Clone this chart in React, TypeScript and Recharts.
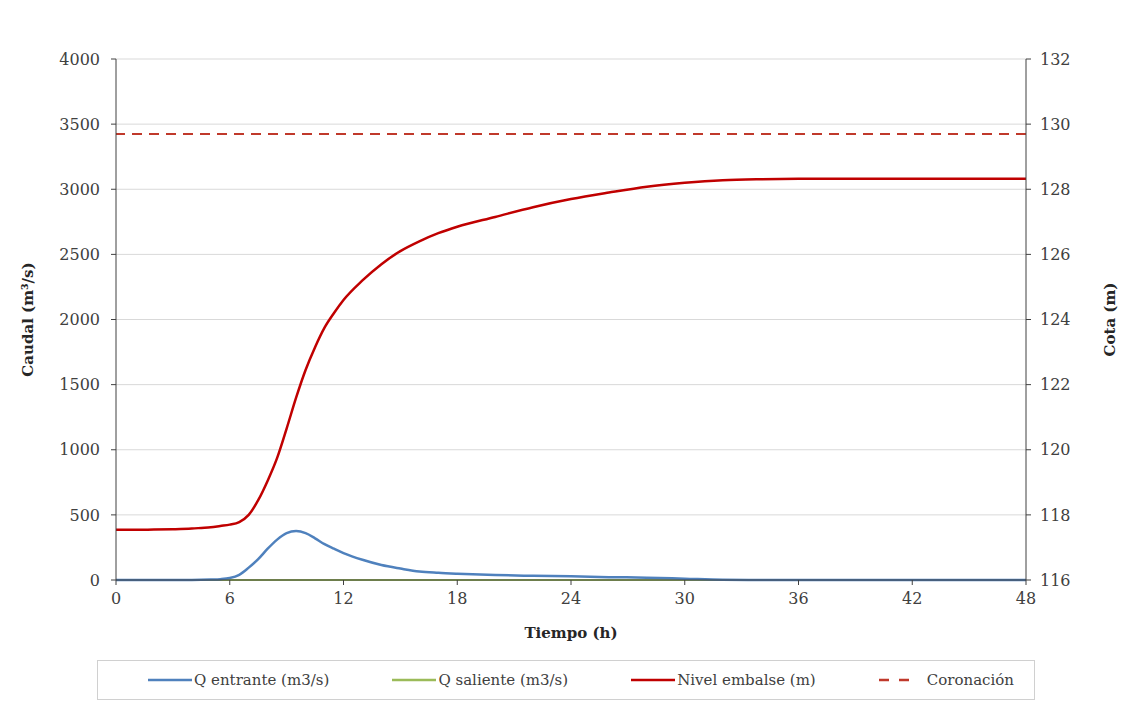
import { ComposedChart, Line, XAxis, YAxis, CartesianGrid, Legend, ReferenceLine } from "recharts";

// Tiempo (h)
const tiempo = [
  0, 1, 2, 3, 4, 4.5, 5, 5.5, 6, 6.5, 7, 7.5, 8, 8.5, 9, 9.5, 10, 10.5, 11, 11.5, 12,
  13, 14, 15, 16, 17, 18, 20, 22, 24, 26, 28, 30, 32, 34, 36, 40, 44, 48,
];

// Caudal entrante (m3/s)
const qEntrante = [
  0, 0, 0, 0, 0, 1, 3, 6, 15, 40, 95, 160, 240, 310, 360, 376, 360, 320, 275, 240, 207,
  155, 115, 88, 65, 55, 48, 38, 32, 28, 22, 18, 10, 2, 0, 0, 0, 0, 0,
];

// Caudal saliente (m3/s)
const qSaliente = [
  0, 0, 0, 0, 0, 0, 0, 0, 0, 0, 0, 0, 0, 0, 0, 0, 0, 0, 0, 0, 0,
  0, 0, 0, 0, 0, 0, 0, 0, 0, 0, 0, 0, 0, 0, 0, 0, 0, 0,
];

// Nivel embalse (m)
const nivel = [
  117.54, 117.54, 117.55, 117.56, 117.58, 117.6, 117.62, 117.66, 117.7, 117.78, 118.0, 118.45,
  119.05, 119.75, 120.65, 121.6, 122.45, 123.15, 123.75, 124.2, 124.6,
  125.2, 125.7, 126.1, 126.4, 126.65, 126.85, 127.15, 127.45, 127.7, 127.9, 128.08, 128.2,
  128.28, 128.31, 128.32, 128.32, 128.32, 128.32,
];

const coronacion = 129.7;

const xTicks = [0, 6, 12, 18, 24, 30, 36, 42, 48];
const caudalTicks = [0, 500, 1000, 1500, 2000, 2500, 3000, 3500, 4000];
const cotaTicks = [116, 118, 120, 122, 124, 126, 128, 130, 132];

const legendItems = [
  { label: "Q entrante (m3/s)", color: "#4F81BD", dash: false },
  { label: "Q saliente (m3/s)", color: "#9BBB59", dash: false },
  { label: "Nivel embalse (m)", color: "#C00000", dash: false },
  { label: "Coronación", color: "#C0392B", dash: true },
];

const data = tiempo.map((t, i) => ({
  t,
  qEntrante: qEntrante[i],
  qSaliente: qSaliente[i],
  nivel: nivel[i],
}));

const font = "'DejaVu Serif', serif";
const tick = { fontSize: 16, fill: "#404040", fontFamily: font };
const titleStyle = { fontFamily: font, fontSize: 15, fontWeight: "bold", fill: "#262626" };

function ChartLegend() {
  return (
    <div style={{ height: 65, boxSizing: "border-box" }}>
      <div
        style={{
          marginLeft: 97,
          width: 938,
          height: 40,
          border: "1px solid #D0D0D0",
          boxSizing: "border-box",
          display: "flex",
          alignItems: "center",
          justifyContent: "space-between",
          paddingLeft: 50,
          paddingRight: 20,
          fontFamily: font,
          fontSize: 15,
          color: "#404040",
        }}
      >
        {legendItems.map((it) => (
          <div key={it.label} style={{ display: "flex", alignItems: "center" }}>
            <svg width={it.dash ? 32 : 44} height={10} style={{ marginRight: it.dash ? 16 : 2 }}>
              <line
                x1={0}
                y1={5}
                x2={it.dash ? 32 : 44}
                y2={5}
                stroke={it.color}
                strokeWidth={2.5}
                strokeDasharray={it.dash ? "10 10" : undefined}
              />
            </svg>
            <span>{it.label}</span>
          </div>
        ))}
      </div>
    </div>
  );
}

export default function App() {
  return (
    <div style={{ position: "absolute", left: 0, top: 0, background: "#fff" }}>
      <ComposedChart
        width={1128}
        height={725}
        data={data}
        margin={{ top: 59, right: 0, bottom: 0, left: 0 }}
      >
        <CartesianGrid stroke="#D9D9D9" vertical={false} yAxisId="left" />
        <XAxis
          dataKey="t"
          type="number"
          domain={[0, 48]}
          ticks={xTicks}
          tick={tick}
          tickSize={5}
          tickMargin={8}
          stroke="#404040"
          height={80}
          label={{
            value: "Tiempo (h)",
            position: "insideBottom",
            offset: 22,
            style: titleStyle,
          }}
        />
        <YAxis
          yAxisId="left"
          domain={[0, 4000]}
          ticks={caudalTicks}
          tick={tick}
          tickSize={5}
          tickMargin={11}
          stroke="#404040"
          width={116}
          label={{
            value: "Caudal (m³/s)",
            angle: -90,
            position: "insideLeft",
            offset: 28,
            style: { ...titleStyle, textAnchor: "middle" },
          }}
        />
        <YAxis
          yAxisId="right"
          orientation="right"
          domain={[116, 132]}
          ticks={cotaTicks}
          tick={tick}
          tickSize={5}
          tickMargin={9}
          stroke="#404040"
          width={102}
          label={{
            value: "Cota (m)",
            angle: -90,
            position: "insideRight",
            offset: 18,
            style: { ...titleStyle, textAnchor: "middle" },
          }}
        />
        <ReferenceLine
          yAxisId="right"
          y={coronacion}
          stroke="#C0392B"
          strokeWidth={2}
          strokeDasharray="10 7"
        />
        <Line
          yAxisId="left"
          type="monotone"
          dataKey="qSaliente"
          stroke="#9BBB59"
          strokeWidth={2}
          dot={false}
          isAnimationActive={false}
        />
        <Line
          yAxisId="left"
          type="monotone"
          dataKey="qEntrante"
          stroke="#4F81BD"
          strokeWidth={2.5}
          dot={false}
          isAnimationActive={false}
        />
        <Line
          yAxisId="right"
          type="monotone"
          dataKey="nivel"
          stroke="#C00000"
          strokeWidth={2.5}
          dot={false}
          isAnimationActive={false}
        />
        <Legend verticalAlign="bottom" content={() => <ChartLegend />} />
      </ComposedChart>
    </div>
  );
}
